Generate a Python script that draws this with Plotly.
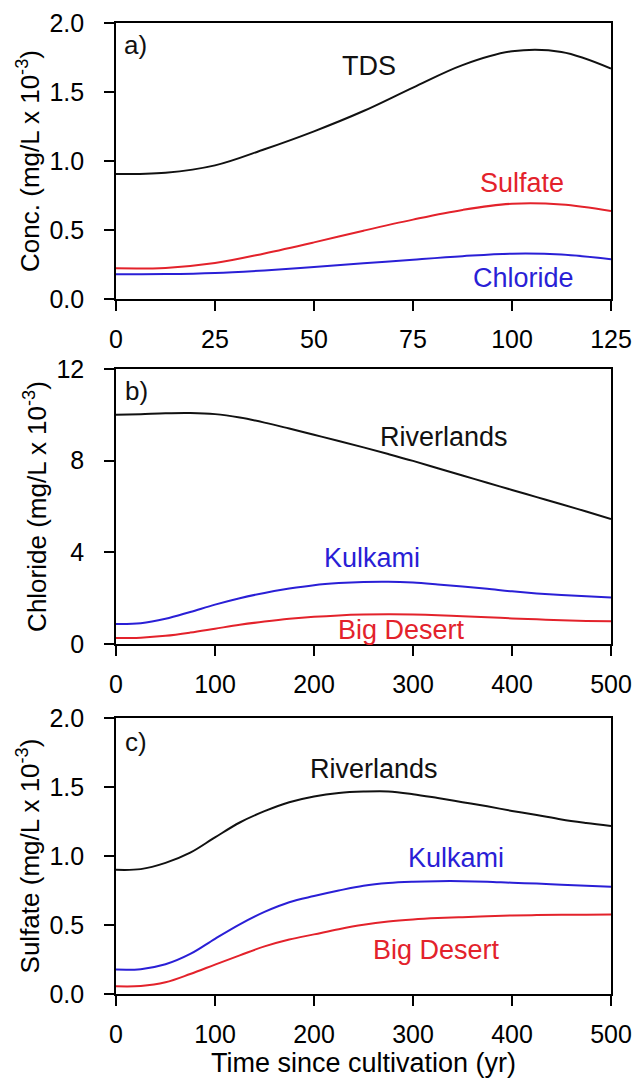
import plotly.graph_objects as go

# ---------------- data ----------------
# Panel a: time 0-125 yr
t_a = [0, 12.5, 25, 37.5, 50, 62.5, 75, 87.5, 100, 112.5, 125]
tds_a = [0.905, 0.915, 0.968, 1.085, 1.215, 1.362, 1.532, 1.695, 1.795, 1.79, 1.67]
sulfate_a = [0.222, 0.225, 0.26, 0.33, 0.41, 0.495, 0.575, 0.645, 0.69, 0.685, 0.638]
chloride_a = [0.179, 0.18, 0.188, 0.207, 0.232, 0.258, 0.285, 0.31, 0.328, 0.322, 0.288]

# Panels b and c: time 0-500 yr
t_bc = [0, 25, 50, 75, 100, 125, 150, 175, 200, 225, 250, 275, 300, 325, 350, 375, 400, 425, 450, 475, 500]
riverlands_cl = [10.0, 10.03, 10.07, 10.08, 10.03, 9.88, 9.66, 9.40, 9.13, 8.86, 8.58, 8.29, 7.99, 7.67, 7.35, 7.04, 6.72, 6.41, 6.10, 5.78, 5.45]
kulkami_cl = [0.88, 0.91, 1.10, 1.40, 1.72, 2.00, 2.23, 2.42, 2.57, 2.66, 2.71, 2.72, 2.68, 2.60, 2.51, 2.41, 2.30, 2.21, 2.14, 2.08, 2.03]
bigdesert_cl = [0.26, 0.28, 0.36, 0.50, 0.67, 0.84, 0.98, 1.10, 1.19, 1.25, 1.285, 1.30, 1.29, 1.26, 1.21, 1.17, 1.12, 1.08, 1.04, 1.01, 0.99]

riverlands_so4 = [0.90, 0.905, 0.95, 1.024, 1.135, 1.243, 1.325, 1.39, 1.432, 1.457, 1.467, 1.468, 1.448, 1.42, 1.39, 1.36, 1.327, 1.297, 1.265, 1.24, 1.218]
kulkami_so4 = [0.177, 0.18, 0.215, 0.29, 0.40, 0.505, 0.595, 0.665, 0.71, 0.75, 0.785, 0.805, 0.814, 0.818, 0.818, 0.814, 0.806, 0.80, 0.792, 0.785, 0.777]
bigdesert_so4 = [0.056, 0.058, 0.085, 0.145, 0.213, 0.28, 0.345, 0.395, 0.432, 0.47, 0.502, 0.525, 0.54, 0.55, 0.557, 0.563, 0.569, 0.572, 0.574, 0.575, 0.576]

ticks_a_x = [0, 25, 50, 75, 100, 125]
ticks_bc_x = [0, 100, 200, 300, 400, 500]
ticks_conc = [0.0, 0.5, 1.0, 1.5, 2.0]
ticks_cl = [0, 4, 8, 12]

BLACK = "#111111"
RED = "#e3222b"
BLUE = "#2a1fd6"
FONT = "Liberation Sans, Arial, sans-serif"

fig = go.Figure()

def line(x, y, color, xa, ya):
    fig.add_trace(go.Scatter(x=x, y=y, mode="lines", line=dict(color=color, width=2, shape="spline", smoothing=1.0),
                             xaxis=xa, yaxis=ya, showlegend=False, hoverinfo="skip"))

line(t_a, tds_a, BLACK, "x", "y")
line(t_a, sulfate_a, RED, "x", "y")
line(t_a, chloride_a, BLUE, "x", "y")

line(t_bc, riverlands_cl, BLACK, "x2", "y2")
line(t_bc, kulkami_cl, BLUE, "x2", "y2")
line(t_bc, bigdesert_cl, RED, "x2", "y2")

line(t_bc, riverlands_so4, BLACK, "x3", "y3")
line(t_bc, kulkami_so4, BLUE, "x3", "y3")
line(t_bc, bigdesert_so4, RED, "x3", "y3")

axis_common = dict(showline=True, linecolor="black", linewidth=1.6, mirror=True,
                   ticks="outside", ticklen=10, tickwidth=1.6, tickcolor="black",
                   showgrid=False, zeroline=False, automargin=False,
                   tickfont=dict(family=FONT, size=25, color="black"))

YT = 26
XSTAND = 7
YSTAND = 15
fig.update_layout(
    width=636, height=1082,
    margin=dict(l=116, r=25, t=23, b=88),
    plot_bgcolor="white", paper_bgcolor="white",
    font=dict(family=FONT, color="black"),
    xaxis=dict(domain=[0, 1], range=[0, 125], tickvals=ticks_a_x, anchor="y", ticklabelstandoff=XSTAND, **axis_common),
    yaxis=dict(domain=[0.7158, 1.0], range=[0, 2.0], tickvals=ticks_conc, tickformat=".1f", anchor="x",
               ticklabelstandoff=YSTAND,
               title=dict(text="Conc. (mg/L x 10<sup>-3</sup>)", font=dict(family=FONT, size=YT), standoff=2),
               **axis_common),
    xaxis2=dict(domain=[0, 1], range=[0, 500], tickvals=ticks_bc_x, anchor="y2", ticklabelstandoff=XSTAND, **axis_common),
    yaxis2=dict(domain=[0.3604, 0.6437], range=[0, 12], tickvals=ticks_cl, anchor="x2",
                ticklabelstandoff=YSTAND,
                title=dict(text="Chloride (mg/L x 10<sup>-3</sup>)", font=dict(family=FONT, size=YT), standoff=2),
                **axis_common),
    xaxis3=dict(domain=[0, 1], range=[0, 500], tickvals=ticks_bc_x, anchor="y3", ticklabelstandoff=XSTAND,
                title=dict(text="Time since cultivation (yr)", font=dict(family=FONT, size=27), standoff=0),
                **axis_common),
    yaxis3=dict(domain=[0, 0.2842], range=[0, 2.0], tickvals=ticks_conc, tickformat=".1f", anchor="x3",
                ticklabelstandoff=YSTAND,
                title=dict(text="Sulfate (mg/L x 10<sup>-3</sup>)", font=dict(family=FONT, size=YT), standoff=2),
                **axis_common),
)

def label(text, x, y, color, xa, ya, xanchor="center", size=27):
    fig.add_annotation(text=text, x=x, y=y, xref=xa, yref=ya, showarrow=False,
                       xanchor=xanchor, yanchor="middle",
                       font=dict(family=FONT, size=size, color=color))

label("a)", 1.5, 1.84, BLACK, "x", "y", "left", 26)
label("TDS", 64, 1.69, BLACK, "x", "y")
label("Sulfate", 102.4, 0.84, RED, "x", "y")
label("Chloride", 102.8, 0.152, BLUE, "x", "y")

label("b)", 7.5, 11.05, BLACK, "x2", "y2", "left", 26)
label("Riverlands", 331, 9.03, BLACK, "x2", "y2")
label("Kulkami", 259, 3.74, BLUE, "x2", "y2")
label("Big Desert", 288, 0.62, RED, "x2", "y2")

label("c)", 7.5, 1.83, BLACK, "x3", "y3", "left", 26)
label("Riverlands", 261, 1.63, BLACK, "x3", "y3")
label("Kulkami", 343, 0.988, BLUE, "x3", "y3")
label("Big Desert", 324, 0.322, RED, "x3", "y3")

# remove the default page margin so the figure sits at the window's top-left corner
fig.write_html("out.html", config={"displayModeBar": False},
               post_script="document.body.style.margin='0';document.body.style.padding='0';")
